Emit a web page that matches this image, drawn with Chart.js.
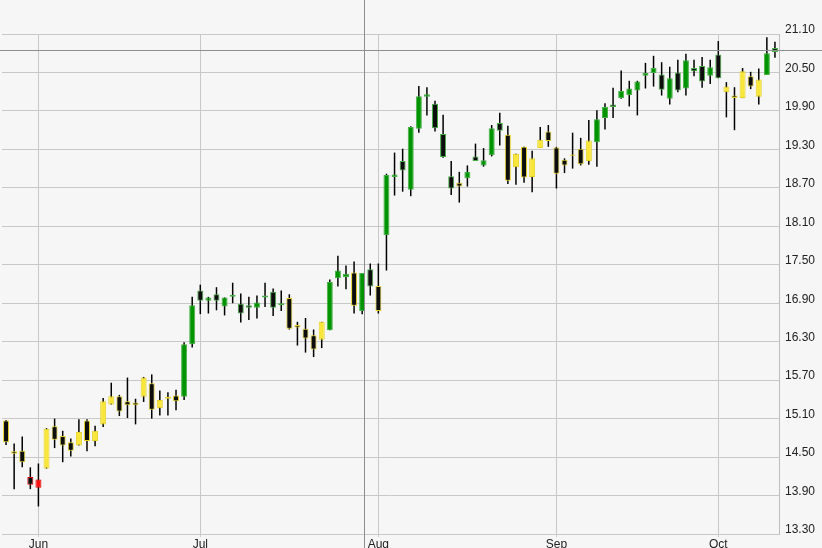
<!DOCTYPE html>
<html>
<head>
<meta charset="utf-8">
<script src="https://cdn.jsdelivr.net/npm/chart.js@4.4.1/dist/chart.umd.min.js"></script>
<style>
    html, body { margin: 0; padding: 0; background: #f6f6f6; }
    #wrap { width: 822px; height: 548px; position: relative; }
</style>
</head>
<body>
<div id="wrap"><canvas id="chart"></canvas></div>
<script>
// daily candles, Jun -> Oct
const opens = [
    15.07, 14.59, 14.60, 14.19, 14.02, 14.32, 14.98, 14.83, 14.73, 14.68, 15.07, 14.75,
    15.01, 15.32, 15.45, 15.37, 15.35, 15.44, 15.65, 15.26, 15.44, 15.46, 15.44, 16.26,
    17.10, 16.94, 17.04, 16.85, 17.00, 16.89, 16.87, 16.83, 16.99, 17.08, 16.87, 16.98,
    16.56, 16.50, 16.40, 16.33, 16.48, 17.29, 17.31, 17.38, 16.78, 17.43, 17.17, 17.96,
    18.87, 19.12, 18.67, 19.62, 20.12, 20.01, 19.54, 18.88, 18.78, 18.85, 19.19, 19.05,
    19.21, 19.71, 19.53, 19.02, 19.34, 18.87, 19.32, 19.58, 19.33, 19.14, 19.22, 19.31,
    19.12, 19.41, 19.79, 20.00, 20.10, 20.15, 20.22, 20.45, 20.49, 20.47, 20.09, 20.50,
    20.25, 20.57, 20.60, 20.45, 20.78, 20.19, 20.14, 20.10, 20.44, 20.12, 20.46, 20.88
];
const highs = [
    15.08, 14.71, 14.82, 14.34, 14.40, 14.95, 15.10, 14.91, 14.79, 15.09, 15.09, 14.99,
    15.42, 15.66, 15.47, 15.74, 15.41, 15.75, 15.79, 15.54, 15.51, 15.55, 16.29, 17.00,
    17.19, 17.00, 17.15, 16.99, 17.22, 17.05, 17.00, 17.02, 17.22, 17.13, 17.10, 17.04,
    16.61, 16.67, 16.49, 16.61, 17.27, 17.64, 17.49, 17.55, 17.37, 17.52, 17.52, 18.92,
    19.25, 19.31, 19.66, 20.29, 20.27, 20.06, 19.84, 19.12, 18.95, 19.05, 19.39, 19.32,
    19.68, 19.87, 19.67, 19.23, 19.34, 19.28, 19.65, 19.68, 19.34, 19.16, 19.56, 19.48,
    19.76, 19.91, 20.02, 20.26, 20.53, 20.37, 20.37, 20.65, 20.76, 20.66, 20.59, 20.70,
    20.79, 20.70, 20.74, 20.70, 20.99, 20.35, 20.27, 20.57, 20.51, 20.56, 21.05, 20.98
];
const lows = [
    14.69, 14.00, 14.34, 14.00, 13.73, 14.32, 14.64, 14.42, 14.51, 14.68, 14.59, 14.67,
    14.97, 15.32, 15.14, 15.11, 15.01, 15.36, 15.10, 15.15, 15.15, 15.23, 15.39, 16.21,
    16.73, 16.74, 16.79, 16.71, 16.90, 16.60, 16.64, 16.66, 16.84, 16.70, 16.78, 16.49,
    16.24, 16.13, 16.06, 16.20, 16.48, 17.16, 17.12, 16.74, 16.73, 17.02, 16.74, 17.41,
    18.58, 18.64, 18.57, 19.56, 19.83, 19.58, 19.17, 18.59, 18.47, 18.72, 19.12, 19.03,
    19.19, 19.36, 18.76, 18.75, 18.78, 18.63, 19.32, 19.34, 18.69, 18.93, 19.00, 19.05,
    19.06, 19.03, 19.61, 19.79, 20.09, 19.97, 19.83, 20.25, 20.28, 20.14, 20.00, 20.19,
    20.14, 20.44, 20.26, 20.32, 20.41, 19.80, 19.60, 20.10, 20.24, 20.00, 20.46, 20.73
];
const closes = [
    14.73, 14.55, 14.42, 14.07, 14.15, 14.94, 14.77, 14.68, 14.60, 14.89, 14.75, 14.91,
    15.37, 15.45, 15.21, 15.31, 15.31, 15.74, 15.24, 15.39, 15.41, 15.37, 16.26, 16.87,
    16.94, 16.99, 16.94, 16.99, 17.03, 16.74, 16.83, 16.91, 17.02, 16.83, 16.90, 16.50,
    16.52, 16.35, 16.18, 16.61, 17.23, 17.41, 17.36, 16.86, 17.37, 17.16, 16.78, 18.90,
    18.91, 18.97, 19.65, 20.13, 20.16, 19.63, 19.18, 18.69, 18.72, 18.95, 19.12, 19.13,
    19.63, 19.59, 18.81, 19.23, 18.86, 19.16, 19.45, 19.43, 18.92, 19.05, 19.20, 19.07,
    19.44, 19.77, 19.96, 19.96, 20.21, 20.25, 20.36, 20.49, 20.57, 20.23, 20.41, 20.22,
    20.69, 20.52, 20.36, 20.58, 20.41, 20.28, 20.10, 20.52, 20.28, 20.39, 20.80, 20.82
];
// candle colour per day: y = yellow, g = green, r = red
const tones = (
    'yyyrryyyyyyy' + 'yyyyyyyyyygg' + 'gggggggggggy' + 'yyyygggyggyg' +
    'ggggggggyggg' + 'ggyyyyyyyyyy' + 'ygggggggggg' + 'ggggggyyyyygg'
).split('');

const monthTickIndex = [4, 24, 46, 68, 88];
const monthTickLabels = ['Jun', 'Jul', 'Aug', 'Sep', 'Oct'];
const priceTicks = [13.30, 13.90, 14.50, 15.10, 15.70, 16.30, 16.90, 17.50, 18.10, 18.70, 19.30, 19.90, 20.50, 21.10];

// mouse crosshair as it sits in the picture
const cursorIndex = 44.3;
const cursorPrice = 20.84;

const COLORS = {
    fill: { g: '#009400', y: '#f8e73a', r: '#ff1010' },
    edge: { g: '#45b045', y: '#e6d226', r: '#e00000' },
    hollow: '#0d0d0d',
    wick: '#000000',
    grid: '#c8c8c8',
    cursor: '#8e8e8e',
    text: '#222222'
};

const FONT = { family: '"Liberation Sans", Arial, sans-serif', size: 12 };

const labels = opens.map((_, i) => i + 1);

const crosshair = {
    id: 'crosshair',
    afterDraw(chart) {
        const { ctx, scales } = chart;
        const x = Math.floor(scales.x.getPixelForValue(cursorIndex)) + 0.5;
        const y = Math.floor(scales.y.getPixelForValue(cursorPrice)) + 0.5;
        ctx.save();
        ctx.strokeStyle = COLORS.cursor;
        ctx.lineWidth = 1;
        ctx.beginPath();
        ctx.moveTo(x, 0);
        ctx.lineTo(x, chart.height);
        ctx.moveTo(0, y);
        ctx.lineTo(chart.width, y);
        ctx.stroke();
        ctx.restore();
    }
};

function bodyColor(i) {
    return closes[i] < opens[i] ? COLORS.hollow : COLORS.fill[tones[i]];
}

new Chart(document.getElementById('chart'), {
    type: 'bar',
    data: {
        labels,
        datasets: [
            {
                // candle bodies
                data: opens.map((o, i) => [o, closes[i]]),
                backgroundColor: labels.map((_, i) => bodyColor(i)),
                borderColor: tones.map(t => COLORS.edge[t]),
                borderWidth: 1,
                borderSkipped: false,
                barThickness: 6,
                inflateAmount: 0,
                grouped: false,
                order: 0
            },
            {
                // wicks
                data: lows.map((l, i) => [l, highs[i]]),
                backgroundColor: COLORS.wick,
                borderWidth: 0,
                barThickness: 1.5,
                inflateAmount: 0,
                grouped: false,
                order: 1
            }
        ]
    },
    options: {
        responsive: true,
        maintainAspectRatio: false,
        animation: false,
        events: [],
        layout: { padding: { left: 2, right: 0, top: 34, bottom: 0 } },
        plugins: {
            legend: { display: false },
            tooltip: { enabled: false }
        },
        scales: {
            x: {
                offset: true,
                afterFit: axis => { axis.height = 14; },
                grid: {
                    offset: false,
                    drawTicks: true,
                    tickLength: 3,
                    color: ctx => monthTickIndex.includes(ctx.index) ? COLORS.grid : 'rgba(0,0,0,0)'
                },
                border: { display: true, color: COLORS.grid },
                ticks: {
                    autoSkip: false,
                    maxRotation: 0,
                    padding: 0,
                    color: COLORS.text,
                    font: FONT,
                    callback: (value, index) => {
                        const k = monthTickIndex.indexOf(index);
                        return k >= 0 ? monthTickLabels[k] : '';
                    }
                }
            },
            y: {
                position: 'right',
                min: priceTicks[0],
                max: priceTicks[priceTicks.length - 1],
                afterBuildTicks: axis => { axis.ticks = priceTicks.map(v => ({ value: v })); },
                afterFit: axis => { axis.width = 43; },
                grid: { color: COLORS.grid, drawTicks: false },
                border: { display: true, color: '#bdbdbd' },
                ticks: {
                    padding: 6,
                    labelOffset: -4,
                    color: COLORS.text,
                    font: FONT,
                    callback: v => v.toFixed(2)
                }
            }
        }
    },
    plugins: [crosshair]
});
</script>
</body>
</html>
